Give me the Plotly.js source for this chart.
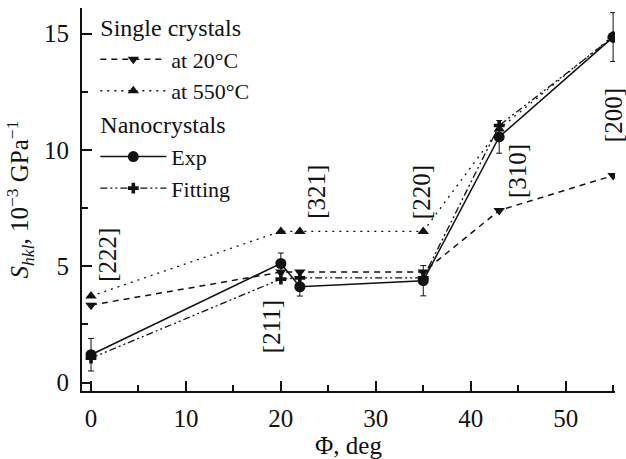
<!DOCTYPE html>
<html>
<head>
<meta charset="utf-8">
<script src="https://cdn.plot.ly/plotly-3.0.1.min.js"></script>
<style>html,body{margin:0;padding:0;background:#fff;}#chart{width:626px;height:459px;}
#chart text, #chart tspan { font-family: "Liberation Serif" !important; }</style>
</head>
<body>
<div id="chart"></div>
<script>
// Data
const phi = [0, 20, 22, 35, 43, 55];
const single20 = [3.33, 4.75, 4.75, 4.75, 7.4, 8.9];
const single550 = [3.72, 6.5, 6.5, 6.5, 10.9, 14.9];
const nanoExp = [1.2, 5.12, 4.12, 4.38, 10.56, 14.85];
const nanoExpErr = [0.7, 0.45, 0.4, 0.65, 0.7, 1.05];
const nanoFit = [1.05, 4.45, 4.5, 4.5, 11.05, 14.85];
const labels = ["[222]", "[211]", "[321]", "[220]", "[310]", "[200]"];
const labelX = [1.7, 19.0, 23.8, 34.8, 45.0, 55.0];
const labelY = [5.5, 2.4, 8.2, 8.2, 9.1, 11.5];

const F = "Liberation Serif";
const fnt = (s) => ({family: F, size: s, color: "#111"});
const traces = [
  {x: phi, y: single20, name: "at 20°C", mode: "lines+markers", legendgroup: "single",
   legendgrouptitle: {text: "Single crystals", font: fnt(24)},
   line: {color: "#111", width: 1.5, dash: "6px,5px"},
   marker: {symbol: "triangle-down", size: 10, color: "#111"}},
  {x: phi, y: single550, name: "at 550°C", mode: "lines+markers", legendgroup: "single",
   line: {color: "#111", width: 1.3, dash: "2px,5px"},
   marker: {symbol: "triangle-up", size: 10, color: "#111"}},
  {x: phi, y: nanoExp, name: "Exp", mode: "lines+markers", legendgroup: "nano",
   legendgrouptitle: {text: "Nanocrystals", font: fnt(24)},
   line: {color: "#111", width: 1.5},
   marker: {symbol: "circle", size: 11, color: "#111"},
   error_y: {type: "data", array: nanoExpErr, visible: true, color: "#111", thickness: 1, width: 3}},
  {x: phi, y: nanoFit, name: "Fitting", mode: "lines+markers", legendgroup: "nano",
   line: {color: "#111", width: 1.3, dash: "7px,3px,2px,3px,2px,3px"},
   marker: {symbol: "cross", size: 9, color: "#111"}}
];

const annotations = labels.map((t, i) => ({
  x: labelX[i], y: labelY[i], xref: "x", yref: "y", text: t, showarrow: false,
  textangle: -90, font: fnt(25)
}));

const layout = {
  width: 626, height: 459,
  margin: {l: 82, r: 11, t: 8, b: 68, autoexpand: false},
  paper_bgcolor: "#fff", plot_bgcolor: "#fff",
  font: fnt(25),
  showlegend: true,
  legend: {x: 0.025, y: 1.01, xanchor: "left", yanchor: "top", bgcolor: "rgba(0,0,0,0)",
           font: fnt(22), itemwidth: 66, tracegroupgap: 0, traceorder: "grouped"},
  xaxis: {range: [-0.95, 55.2], showgrid: false, zeroline: false, showline: true,
          linecolor: "#111", linewidth: 2, ticks: "inside", ticklen: 10, tickwidth: 1.5,
          tickcolor: "#111", tickvals: [0, 10, 20, 30, 40, 50], ticklabelstandoff: 4,
          tickfont: fnt(25),
          minor: {tickvals: [5, 15, 25, 35, 45, 55], ticks: "inside", ticklen: 6, tickwidth: 1.5, tickcolor: "#111"},
          title: {text: "Φ, deg", font: fnt(25), standoff: 4}},
  yaxis: {range: [-0.36, 16.1], showgrid: false, zeroline: false, showline: true,
          linecolor: "#111", linewidth: 2, ticks: "inside", ticklen: 10, tickwidth: 1.5,
          tickcolor: "#111", tickvals: [0, 5, 10, 15], ticklabelstandoff: 6,
          tickfont: fnt(25),
          minor: {tickvals: [2.5, 7.5, 12.5], ticks: "inside", ticklen: 6, tickwidth: 1.5, tickcolor: "#111"},
          title: {text: "<i>S</i><sub><i>hkl</i></sub>, 10<sup>−3</sup> GPa<sup>−1</sup>", font: fnt(25), standoff: 8}},
  annotations: annotations
};

Plotly.newPlot("chart", traces, layout, {displayModeBar: false});
</script>
</body>
</html>
